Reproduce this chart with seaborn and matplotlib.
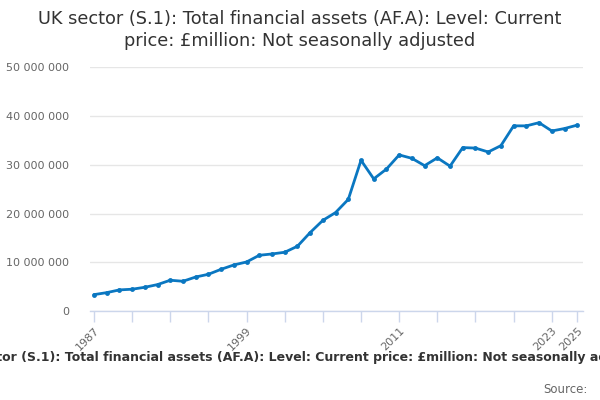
import matplotlib
matplotlib.use("Agg")
import matplotlib.pyplot as plt
import seaborn as sns
import pandas as pd
from matplotlib.ticker import FuncFormatter, FixedLocator

years = list(range(1987, 2026))
values = [3.39, 3.8, 4.36, 4.5, 4.9, 5.45, 6.34, 6.13, 7.0, 7.56,
          8.58, 9.47, 10.08, 11.45, 11.72, 12.07, 13.3, 16.1, 18.6, 20.2,
          22.9, 30.9, 27.1, 29.1, 32.0, 31.3, 29.8, 31.4, 29.7, 33.5,
          33.4, 32.6, 33.9, 37.95, 37.95, 38.6, 36.9, 37.4, 38.1]
values = [v * 1_000_000 for v in values]
tick_years = list(range(1987, 2024, 3)) + [2025]
label_years = [1987, 1999, 2011, 2023, 2025]
title = "UK sector (S.1): Total financial assets (AF.A): Level: Current price: £million: Not seasonally adjusted"

df = pd.DataFrame({"year": years, "value": values})

sns.set_theme(style="white")
plt.rcParams['font.family'] = ['DejaVu Sans']

fig = plt.figure(figsize=(6, 4), dpi=100)
ax = fig.add_axes([0.15, 0.222, 0.822, 0.6105])
sns.lineplot(data=df, x="year", y="value", ax=ax, color="#0a77c1",
             linewidth=2, marker="o", markersize=3.5, markeredgewidth=0)

ax.set_xlim(1986.69, 2025.47)
ax.set_ylim(0, 50_000_000)
ax.set_yticks([0, 10_000_000, 20_000_000, 30_000_000, 40_000_000, 50_000_000])
ax.yaxis.set_major_formatter(FuncFormatter(lambda v, p: f"{int(v):,}".replace(",", " ")))
ax.xaxis.set_major_locator(FixedLocator(tick_years))
ax.set_xticklabels([str(y) if y in label_years else "" for y in tick_years],
                   rotation=45, ha="right", rotation_mode="anchor")
ax.grid(axis="y", color="#e6e6e6", linewidth=1)
ax.set_axisbelow(True)
for s in ["top", "right", "left"]:
    ax.spines[s].set_visible(False)
ax.spines["bottom"].set_color("#ccd6eb")
ax.spines["bottom"].set_linewidth(1)
ax.tick_params(axis="x", colors="#666666", labelsize=8, length=8, width=1,
               direction="out", bottom=True, pad=2)
ax.tick_params(axis="x", color="#ccd6eb")
ax.tick_params(axis="y", colors="#666666", labelsize=8, length=0, pad=15)
ax.set_xlabel("")
ax.set_ylabel("")

fig.text(0.5, 0.975, "UK sector (S.1): Total financial assets (AF.A): Level: Current\nprice: £million: Not seasonally adjusted",
         ha="center", va="top", fontsize=12.8, color="#333333", linespacing=1.25)
fig.text(0.5, 0.105, title, ha="center", va="center", fontsize=9,
         fontweight="bold", color="#333333")
fig.text(0.98, 0.027, "Source:", ha="right", va="center", fontsize=8.5, color="#666666")

fig.savefig("out.png", dpi=100)
